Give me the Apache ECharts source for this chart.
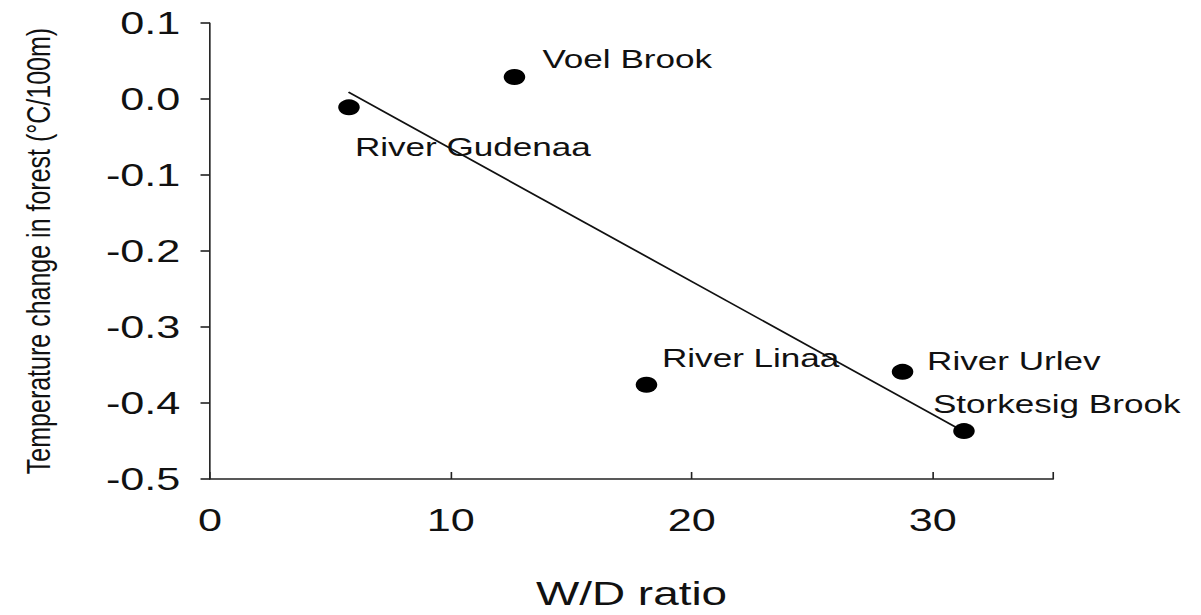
<!DOCTYPE html>
<html>
<head>
<meta charset="utf-8">
<script src="https://cdn.jsdelivr.net/npm/echarts@6/dist/echarts.min.js"></script>
<style>
html,body{margin:0;padding:0;background:#fff;overflow:hidden;width:1201px;height:615px}
#c{width:890px;height:615px;transform:scaleX(1.34944);transform-origin:0 0}
</style>
</head>
<body>
<div id="c"></div>
<script>
// Data
const siteNames = ['River Gudenaa', 'Voel Brook', 'River Linaa', 'River Urlev', 'Storkesig Brook'];
const wdRatio = [5.77, 12.64, 18.12, 28.75, 31.30];
const tempChange = [-0.011, 0.029, -0.376, -0.359, -0.437];
const fitLineX = [5.75, 31.2];
const fitLineY = [0.009, -0.436];
const xTicks = [0, 10, 20, 30];
const yTicks = [-0.5, -0.4, -0.3, -0.2, -0.1, 0.0, 0.1];

// Label placement (style only)
const labelOffsets = [[-8.6, 40], [7.7, -18], [-1.5, -26.5], [5.2, -10.5], [-36, -27]];

const chart = echarts.init(document.getElementById('c'), null, {renderer: 'svg'});
const font = 'Liberation Sans, Arial, sans-serif';
chart.setOption({
  animation: false,
  backgroundColor: '#fff',
  grid: {left: 155.6, right: 109.6, top: 23, bottom: 136, containLabel: false, outerBoundsMode: 'none'},
  xAxis: {
    type: 'value', min: 0, max: 35, interval: 10,
    name: 'W/D ratio', nameLocation: 'middle', nameGap: 97,
    nameTextStyle: {fontFamily: font, fontSize: 34, lineHeight: 34, color: '#111'},
    axisLine: {show: true, onZero: false, lineStyle: {color: '#222', width: 1.6}},
    axisTick: {show: true, inside: true, length: 7, lineStyle: {color: '#222', width: 1.2}},
    axisLabel: {fontFamily: font, fontSize: 32, color: '#111', margin: 25,
      formatter: v => (xTicks.indexOf(v) >= 0 ? String(v) : '')},
    splitLine: {show: false}
  },
  yAxis: {
    type: 'value', min: -0.5, max: 0.1, interval: 0.1,
    name: 'Temperature change in forest (°C/100m)', nameLocation: 'middle', nameGap: 115,
    nameTextStyle: {fontFamily: font, fontSize: 25, color: '#111'},
    axisLine: {show: true, onZero: false, lineStyle: {color: '#222', width: 1.2}},
    axisTick: {show: true, length: 7, lineStyle: {color: '#222', width: 1.6}},
    axisLabel: {fontFamily: font, fontSize: 32, color: '#111', margin: 22,
      formatter: v => {
        const t = yTicks.find(k => Math.abs(k - v) < 1e-9);
        return t === undefined ? '' : t.toFixed(1);
      }},
    splitLine: {show: false}
  },
  series: [
    {
      type: 'line',
      data: fitLineX.map((x, i) => [x, fitLineY[i]]),
      symbol: 'none',
      lineStyle: {color: '#111', width: 1.6},
      z: 3
    },
    {
      type: 'scatter',
      data: wdRatio.map((x, i) => ({
        value: [x, tempChange[i]],
        name: siteNames[i],
        label: {offset: labelOffsets[i]}
      })),
      symbol: 'circle',
      symbolSize: 16,
      itemStyle: {color: '#000', opacity: 1},
      label: {
        show: true, position: 'right', distance: 5,
        formatter: p => p.name,
        fontFamily: font, fontSize: 26, color: '#111'
      },
      emphasis: {disabled: true},
      z: 4
    }
  ]
});
</script>
</body>
</html>
